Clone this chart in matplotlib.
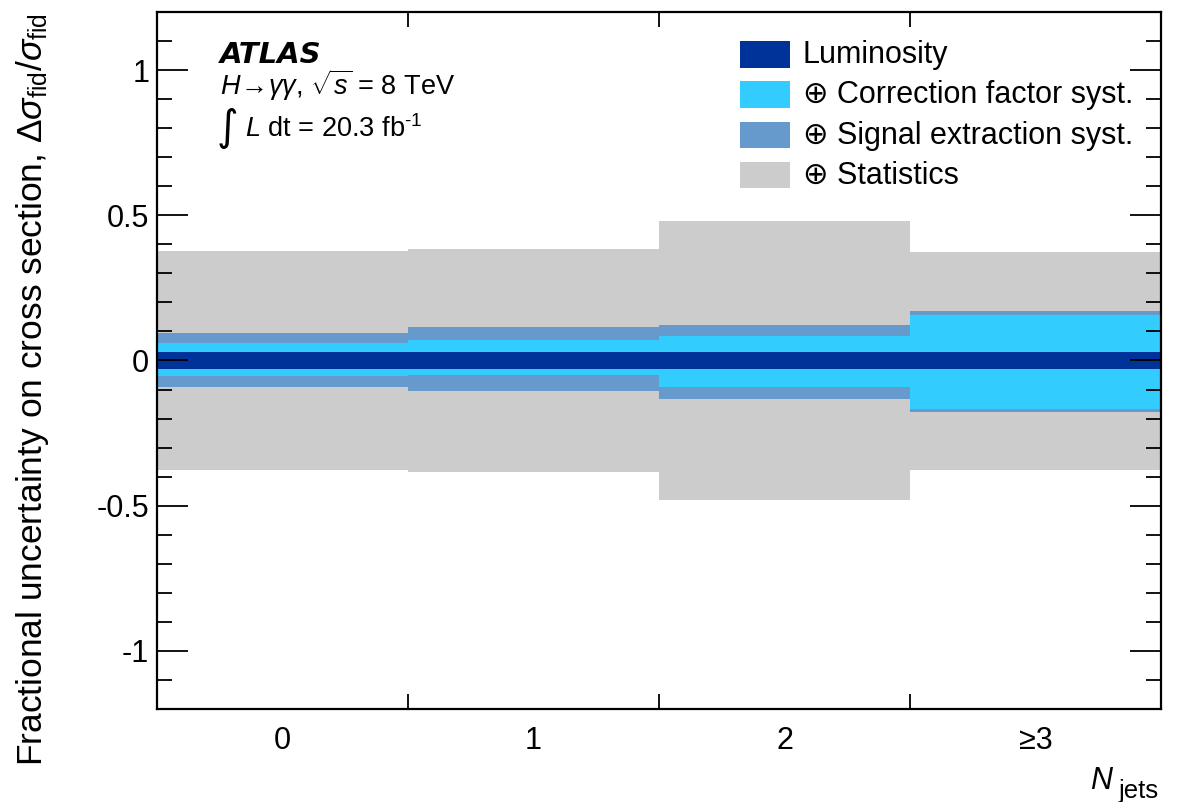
import matplotlib
matplotlib.use("Agg")
import matplotlib.pyplot as plt
from matplotlib.patches import Rectangle
from matplotlib.ticker import MultipleLocator, FixedLocator, NullFormatter

plt.rcParams['font.family'] = ['Liberation Sans', 'DejaVu Sans']
plt.rcParams['mathtext.fontset'] = 'custom'
plt.rcParams['mathtext.rm'] = 'Liberation Sans'
plt.rcParams['mathtext.it'] = 'Liberation Sans:italic'
plt.rcParams['mathtext.bf'] = 'Liberation Sans:bold'

# Jet-multiplicity bins
bin_labels = ["0", "1", "2", "\u22653"]
bin_edges = [-0.5, 0.5, 1.5, 2.5, 3.5]

# Cumulative fractional uncertainties (upper / lower) per bin
lumi_up = [0.028, 0.028, 0.028, 0.028]
lumi_dn = [0.028, 0.028, 0.028, 0.028]
corr_up = [0.061, 0.071, 0.083, 0.157]
corr_dn = [0.053, 0.051, 0.091, 0.167]
sig_up = [0.093, 0.114, 0.123, 0.169]
sig_dn = [0.091, 0.104, 0.131, 0.178]
stat_up = [0.377, 0.385, 0.480, 0.373]
stat_dn = [0.378, 0.385, 0.482, 0.377]

legend_labels = ["Luminosity", "\u2295 Correction factor syst.",
                 "\u2295 Signal extraction syst.", "\u2295 Statistics"]
colors = ["#003399", "#33ccff", "#6699cc", "#cccccc"]

W, H = 1182, 802
fig = plt.figure(figsize=(W / 100, H / 100), dpi=100)
ax_l, ax_r, ax_t, ax_b = 157, 1161, 12, 709
ax = fig.add_axes([ax_l / W, 1 - ax_b / H, (ax_r - ax_l) / W, (ax_b - ax_t) / H])


def draw_band(up, dn, color):
    for i in range(len(up)):
        ax.fill_between([bin_edges[i], bin_edges[i + 1]], [-dn[i]] * 2, [up[i]] * 2,
                        color=color, linewidth=0)


# statistics (outermost) first, luminosity (innermost) last
draw_band(stat_up, stat_dn, colors[3])
draw_band(sig_up, sig_dn, colors[2])
draw_band(corr_up, corr_dn, colors[1])
draw_band(lumi_up, lumi_dn, colors[0])

ax.set_xlim(bin_edges[0], bin_edges[-1])
ax.set_ylim(-1.2, 1.2)

for s in ax.spines.values():
    s.set_linewidth(1.6)

# y axis ticks
ax.yaxis.set_major_locator(FixedLocator([-1, -0.5, 0, 0.5, 1]))
ax.yaxis.set_minor_locator(MultipleLocator(0.1))
ax.set_yticklabels(["-1", "-0.5", "0", "0.5", "1"])
ax.tick_params(axis='y', which='major', direction='in', length=22, width=1.3,
               left=True, right=True, labelsize=22, pad=5.5)
ax.tick_params(axis='y', which='minor', direction='in', length=11, width=1.3,
               left=True, right=True)

# x axis: ticks at bin edges, labels at bin centres
ax.xaxis.set_major_locator(FixedLocator(bin_edges[1:-1]))
ax.xaxis.set_major_formatter(NullFormatter())
ax.xaxis.set_minor_locator(FixedLocator(range(len(bin_labels))))
ax.set_xticklabels(bin_labels, minor=True)
ax.tick_params(axis='x', which='major', direction='in', length=11, width=1.3,
               bottom=True, top=True)
ax.tick_params(axis='x', which='minor', length=0, labelsize=22, pad=12)

ax.set_ylabel(r"Fractional uncertainty on cross section, $\Delta\sigma_{\rm fid}/\sigma_{\rm fid}$",
              fontsize=25.5)
ax.yaxis.set_label_coords(-0.1056, 0.458)

# x-axis title
fig.text(1090 / W, 1 - 789 / H, "N", fontsize=22, fontstyle='italic', ha='left', va='baseline')
fig.text(1159 / W, 1 - 798 / H, "jets", fontsize=18.5, ha='right', va='baseline')

# Experiment labels
fig.text(220 / W, 1 - 63 / H, "ATLAS", fontsize=21, fontweight='bold', fontstyle='italic',
         family='DejaVu Sans', ha='left', va='baseline')
fig.text(220 / W, 1 - 95 / H, r"$H\!\rightarrow\!\gamma\gamma$, $\sqrt{s}$ = 8 TeV",
         fontsize=19.5, ha='left', va='baseline')
fig.text(217 / W, 1 - 140 / H, "\u222b", fontsize=30, family='DejaVu Sans',
         ha='left', va='baseline')
fig.text(245 / W, 1 - 137 / H, r"$L$ dt = 20.3 fb$^{\text{-1}}$",
         fontsize=19.5, ha='left', va='baseline')

# Legend: coloured boxes with labels
box_x0, box_w, box_h = 740, 50, 26.5
row_top0, row_pitch = 41, 40.3
for i, (lab, col) in enumerate(zip(legend_labels, colors)):
    top = row_top0 + i * row_pitch
    fig.patches.append(Rectangle((box_x0 / W, 1 - (top + box_h) / H), box_w / W, box_h / H,
                                 transform=fig.transFigure, facecolor=col, edgecolor='none',
                                 zorder=5))
    fig.text(803 / W, 1 - (top + 22) / H, lab, fontsize=22, ha='left', va='baseline')

fig.savefig("out.png", dpi=100)
